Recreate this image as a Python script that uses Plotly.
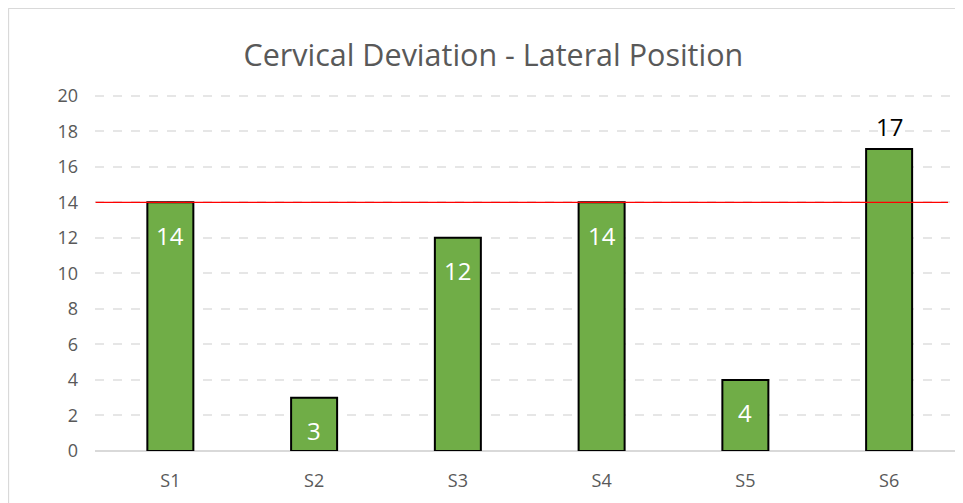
import plotly.graph_objects as go

subjects = ["S1", "S2", "S3", "S4", "S5", "S6"]
deviation = [14, 3, 12, 14, 4, 17]
label_inside = [True, True, True, True, True, False]
threshold = 14
y_ticks = list(range(0, 21, 2))

fig = go.Figure()
fig.add_trace(
    go.Bar(
        x=subjects,
        y=deviation,
        width=0.32,
        marker=dict(color="#70ad47", line=dict(color="black", width=2)),
        hoverinfo="x+y",
    )
)

# value labels: white inside the bar top, black above when flagged outside
for s, v, inside in zip(subjects, deviation, label_inside):
    fig.add_annotation(
        x=s, y=v, xref="x", yref="y",
        text=str(v), showarrow=False,
        yanchor="middle",
        yshift=-33 if inside else 23,
        font=dict(size=24, color="white" if inside else "black", family="Open Sans"),
    )

# reference line at the threshold
fig.add_shape(
    type="line", xref="x", yref="y",
    x0=-0.52, x1=5.41, y0=threshold, y1=threshold,
    line=dict(color="#ff0000", width=1.2),
)

# chart frame (only top and left visible in the crop)
fig.add_shape(type="line", xref="paper", yref="paper",
              x0=-0.1, x1=1.2, y0=1.24, y1=1.24,
              line=dict(color="#d9d9d9", width=1.5))
fig.add_shape(type="line", xref="paper", yref="paper",
              x0=-0.1, x1=-0.1, y0=-0.3, y1=1.24,
              line=dict(color="#d9d9d9", width=1.5))

fig.update_layout(
    width=963,
    height=503,
    margin=dict(l=87, r=10, t=86, b=60),
    plot_bgcolor="white",
    paper_bgcolor="white",
    showlegend=False,
    title=dict(
        text="Cervical Deviation - Lateral Position",
        x=0.46, xref="paper", xanchor="center",
        y=0.905, yanchor="middle",
        font=dict(size=30.5, color="#595959", family="Open Sans"),
    ),
    font=dict(family="Open Sans", color="#595959"),
    xaxis=dict(
        showgrid=False,
        tickfont=dict(size=18, color="#595959"),
        ticks="",
        showline=False,
        ticklabelstandoff=17,
    ),
    yaxis=dict(
        range=[0, 20.1],
        tickvals=y_ticks,
        tickfont=dict(size=18, color="#595959"),
        gridcolor="#e6e6e6",
        griddash="dash",
        gridwidth=1.5,
        zeroline=True,
        zerolinecolor="#d9d9d9",
        zerolinewidth=2,
        ticklabelstandoff=16,
    ),
)

fig.write_html("out.html")
